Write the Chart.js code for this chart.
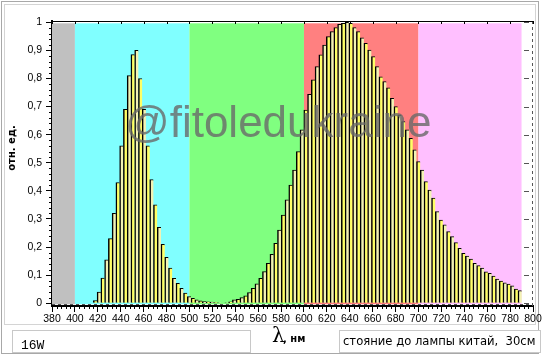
<!DOCTYPE html>
<html>
<head>
<meta charset="utf-8">
<script src="https://cdn.jsdelivr.net/npm/chart.js@4"></script>
<style>
  html, body { margin: 0; padding: 0; background: #fff; }
  canvas { display: block; }
</style>
</head>
<body>
<canvas id="spec" width="545" height="355"></canvas>
<script>
// bin centres, nm (spectrometer pitch ~3.28 nm)
const LAMBDA = [
  417.73, 421.02, 424.30, 427.58, 430.86, 434.14, 437.42, 440.70, 443.98, 447.27,
  450.55, 453.83, 457.11, 460.39, 463.67, 466.95, 470.23, 473.52, 476.80, 480.08,
  483.36, 486.64, 489.92, 493.20, 496.48, 499.77, 503.05, 506.33, 509.61, 512.89,
  516.17, 519.45, 522.73, 526.02, 529.30, 532.58, 535.86, 539.14, 542.42, 545.70,
  548.98, 552.27, 555.55, 558.83, 562.11, 565.39, 568.67, 571.95, 575.23, 578.52,
  581.80, 585.08, 588.36, 591.64, 594.92, 598.20, 601.48, 604.77, 608.05, 611.33,
  614.61, 617.89, 621.17, 624.45, 627.73, 631.02, 634.30, 637.58, 640.86, 644.14,
  647.42, 650.70, 653.98, 657.27, 660.55, 663.83, 667.11, 670.39, 673.67, 676.95,
  680.23, 683.52, 686.80, 690.08, 693.36, 696.64, 699.92, 703.20, 706.48, 709.77,
  713.05, 716.33, 719.61, 722.89, 726.17, 729.45, 732.73, 736.02, 739.30, 742.58,
  745.86, 749.14, 752.42, 755.70, 758.98, 762.27, 765.55, 768.83, 772.11, 775.39,
  778.67, 781.95, 785.23, 788.52
];

// relative intensity
const INTENSITY = [
  0.010, 0.040, 0.090, 0.155, 0.230, 0.320, 0.430, 0.560, 0.690, 0.810,
  0.885, 0.900, 0.800, 0.690, 0.560, 0.440, 0.350, 0.270, 0.210, 0.164,
  0.125, 0.089, 0.071, 0.053, 0.036, 0.024, 0.018, 0.012, 0.009, 0.006,
  0.005, 0.004, 0.003, 0.002, 0.000, 0.002, 0.005, 0.012, 0.014, 0.020,
  0.027, 0.038, 0.053, 0.069, 0.089, 0.113, 0.142, 0.174, 0.213, 0.261,
  0.314, 0.368, 0.421, 0.474, 0.540, 0.617, 0.688, 0.744, 0.795, 0.842,
  0.884, 0.919, 0.949, 0.967, 0.981, 0.993, 0.996, 1.000, 0.996, 0.981,
  0.967, 0.945, 0.925, 0.901, 0.878, 0.842, 0.806, 0.789, 0.767, 0.729,
  0.700, 0.670, 0.647, 0.617, 0.587, 0.546, 0.504, 0.474, 0.433, 0.403,
  0.374, 0.326, 0.296, 0.279, 0.255, 0.237, 0.216, 0.196, 0.178, 0.168,
  0.157, 0.142, 0.134, 0.125, 0.112, 0.107, 0.097, 0.086, 0.079, 0.073,
  0.068, 0.062, 0.051, 0.045
];

const X_TICKS = [380, 400, 420, 440, 460, 480, 500, 520, 540, 560, 580, 600, 620, 640, 660, 680, 700, 720, 740, 760, 780, 800];
const Y_TICKS = [0, 0.1, 0.2, 0.3, 0.4, 0.5, 0.6, 0.7, 0.8, 0.9, 1];
const Y_LABELS = ['0', '0,1', '0,2', '0,3', '0,4', '0,5', '0,6', '0,7', '0,8', '0,9', '1'];

// colour bands behind the spectrum
const BAND_EDGES = [380, 400, 500, 600, 700, 790];
const BAND_COLORS = ['#c0c0c0', '#80ffff', '#80ff80', '#ff8080', '#ffbfff'];

const WATERMARK = '@fitoledukraine';
const Y_TITLE = 'отн. ед.';
const X_TITLE_SYM = 'λ';
const X_TITLE_UNIT = ', нм';
const NOTE_LEFT = '16W';
const NOTE_RIGHT = 'стояние до лампы китай,  30см';

const extras = {
  id: 'extras',
  beforeDraw(chart) {
    const c = chart.ctx;
    c.save();
    c.fillStyle = '#fff';
    c.fillRect(0, 0, chart.width, chart.height);
    // double grey frame
    c.strokeStyle = '#a8a8a8'; c.lineWidth = 1;
    c.strokeRect(1.5, 1.5, 537, 352);
    c.strokeStyle = '#d4d4d4';
    c.strokeRect(4.5, 4.5, 531, 320);
    // note boxes
    c.fillStyle = '#fff'; c.strokeStyle = '#c8c8c8';
    c.fillRect(12, 330, 239, 23); c.strokeRect(12.5, 330.5, 238, 22);
    c.fillRect(339, 330, 202, 23); c.strokeRect(339.5, 330.5, 201, 22);
    c.restore();
  },
  beforeDatasetsDraw(chart) {
    const c = chart.ctx, x = chart.scales.x, y = chart.scales.y, a = chart.chartArea;
    const top = y.getPixelForValue(1) + 1, bot = y.getPixelForValue(0) + 1;
    c.save();
    for (let i = 0; i < BAND_COLORS.length; i++) {
      const x0 = x.getPixelForValue(BAND_EDGES[i]), x1 = x.getPixelForValue(BAND_EDGES[i + 1]);
      c.fillStyle = BAND_COLORS[i];
      c.fillRect(x0, top, x1 - x0, bot - top);
    }
    // dashed zero line
    c.strokeStyle = '#555'; c.lineWidth = 1; c.setLineDash([3, 3]);
    c.beginPath(); c.moveTo(a.left, Math.round(bot) + 0.5); c.lineTo(a.right, Math.round(bot) + 0.5); c.stroke();
    // dashed right border + its ticks
    c.beginPath(); c.moveTo(a.right - 0.5, a.top); c.lineTo(a.right - 0.5, a.bottom); c.stroke();
    c.setLineDash([]);
    Y_TICKS.forEach(v => {
      const py = Math.round(y.getPixelForValue(v)) + 0.5;
      c.beginPath(); c.moveTo(a.right - 9, py); c.lineTo(a.right - 4, py); c.stroke();
    });
    // solid top border with ticks
    c.strokeStyle = '#000';
    c.beginPath(); c.moveTo(a.left, a.top + 0.5); c.lineTo(a.right, a.top + 0.5); c.stroke();
    X_TICKS.forEach(v => {
      const px = Math.round(x.getPixelForValue(v)) + 0.5;
      c.beginPath(); c.moveTo(px, a.top); c.lineTo(px, a.top + 3); c.stroke();
    });
    // minor ticks on the axes
    for (let v = 384; v < 800; v += 4) {
      if (v % 20 === 0) continue;
      const px = Math.round(x.getPixelForValue(v)) + 0.5;
      c.beginPath(); c.moveTo(px, a.bottom); c.lineTo(px, a.bottom + 3); c.stroke();
    }
    for (let k = 1; k < 50; k++) {
      if (k % 5 === 0) continue;
      const py = Math.round(y.getPixelForValue(k * 0.02)) + 0.5;
      c.beginPath(); c.moveTo(a.left - 3, py); c.lineTo(a.left, py); c.stroke();
    }
    c.restore();
  },
  afterDatasetsDraw(chart) {
    const c = chart.ctx;
    c.save();
    c.font = '44px "Liberation Sans", Arial, sans-serif';
    c.fillStyle = 'rgba(105,105,105,0.8)';
    c.textBaseline = 'alphabetic';
    c.fillText(WATERMARK, 125, 137);
    c.restore();
  },
  afterDraw(chart) {
    const c = chart.ctx;
    c.save();
    c.fillStyle = '#000';
    // y title
    c.translate(12, 148);
    c.rotate(-Math.PI / 2);
    c.font = 'bold 10px "DejaVu Sans", sans-serif';
    c.textAlign = 'center'; c.textBaseline = 'middle';
    c.fillText(Y_TITLE, 0, 0);
    c.setTransform(1, 0, 0, 1, 0, 0);
    // x title
    c.textAlign = 'left'; c.textBaseline = 'alphabetic';
    c.font = '20px "DejaVu Serif", serif';
    c.fillText(X_TITLE_SYM, 272, 342);
    c.font = 'bold 10px "DejaVu Sans", sans-serif';
    c.fillText(X_TITLE_UNIT, 283, 342);
    // notes
    c.font = '13px "Liberation Mono", monospace';
    c.fillText(NOTE_LEFT, 21, 349);
    c.font = '11.6px "DejaVu Sans", sans-serif';
    c.fillText(NOTE_RIGHT, 343, 345);
    c.restore();
  }
};

const points = LAMBDA.map((l, i) => ({ x: l, y: INTENSITY[i] }));

new Chart(document.getElementById('spec'), {
  type: 'bar',
  data: {
    datasets: [{
      data: points,
      backgroundColor: ctx => (ctx.dataIndex % 2 ? '#f2f2b4' : '#ffff66'),
      borderColor: '#000',
      borderWidth: { left: 1.5, top: 1, right: 0, bottom: 0 },
      borderSkipped: false,
      barPercentage: 1,
      categoryPercentage: 1
    }]
  },
  options: {
    responsive: false,
    devicePixelRatio: 1,
    animation: false,
    events: [],
    layout: { padding: { left: 0, top: 21, right: 12, bottom: 0 } },
    plugins: { legend: { display: false }, tooltip: { enabled: false } },
    scales: {
      x: {
        type: 'linear',
        offset: false,
        min: 380, max: 800,
        afterFit: s => { s.height = 49; },
        afterBuildTicks: s => { s.ticks = X_TICKS.map(v => ({ value: v })); },
        border: { color: '#000', width: 2 },
        grid: { offset: false, drawOnChartArea: false, color: '#000', tickLength: 6 },
        ticks: { color: '#000', padding: 1, maxRotation: 0, autoSkip: false,
                 font: { family: '"Liberation Sans", Arial, sans-serif', size: 10.5 } }
      },
      y: {
        min: -0.0096, max: 1.0046,
        afterFit: s => { s.width = 52; },
        afterBuildTicks: s => { s.ticks = Y_TICKS.map(v => ({ value: v })); },
        border: { color: '#000', width: 2 },
        grid: { drawOnChartArea: false, color: '#000', tickLength: 6 },
        ticks: { color: '#000', padding: 4, autoSkip: false,
                 font: { family: '"Liberation Sans", Arial, sans-serif', size: 10.5 },
                 callback: (v, i) => Y_LABELS[i] }
      }
    }
  },
  plugins: [extras]
});
</script>
</body>
</html>
